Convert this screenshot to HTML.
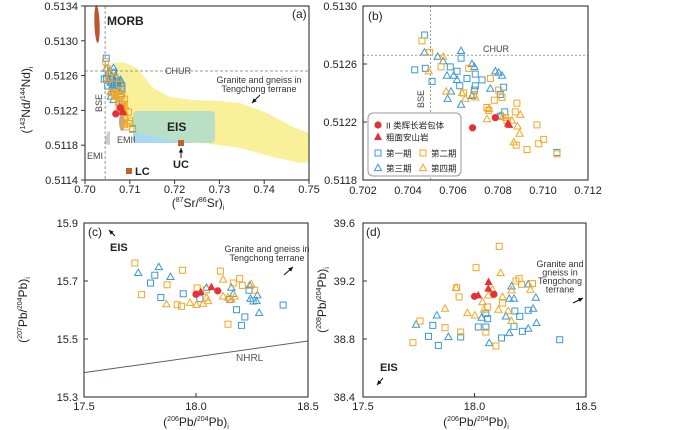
<!DOCTYPE html>
<html><head><meta charset="utf-8"><style>
html,body{margin:0;padding:0;background:#fff;}
svg{display:block;font-family:"Liberation Sans","Noto Sans CJK SC",sans-serif;}
</style></head><body>
<svg id="chart" width="700" height="430" viewBox="0 0 700 430">
<defs>
<clipPath id="clipA"><rect x="85" y="6" width="224" height="174"/></clipPath>
<clipPath id="clipYel"><polygon id="yelPoly" points="115,63 123,62 137,68 153,88 170,97 193,100 220,101 240,103 267,113 293,127 309,133 309,162 300,163 273,157 240,148 203,143 180,142 160,137 140,133 130,128 123,120 118,110 116,93"/></clipPath>
</defs>
<g id="layer"></g>
</svg>
<script>
// ---- Sr-Nd data (panels a, b) ----
const srB1=[0.70474,0.70636,0.70430,0.70477,0.70507,0.70588,0.70618,0.70662,0.70699,0.70729,0.70630,0.70699,0.70825,0.70810,0.70695,0.70830,0.70810,0.71062];
const ndB1=[0.51280,0.51264,0.51256,0.51257,0.51248,0.51258,0.51255,0.51250,0.51253,0.51249,0.51245,0.51245,0.51244,0.51239,0.51242,0.51227,0.51224,0.51199];
const srB3=[0.70473,0.70636,0.70532,0.70556,0.70684,0.70695,0.70788,0.70803,0.70818,0.70573,0.70603,0.70618,0.70591,0.70576,0.70636,0.70684,0.70766,0.70810];
const ndB3=[0.51268,0.51269,0.51265,0.51262,0.51260,0.51258,0.51255,0.51254,0.51252,0.51252,0.51252,0.51249,0.51241,0.51236,0.51232,0.51238,0.51243,0.51224];
const srO2=[0.70462,0.70496,0.70547,0.70670,0.70647,0.70692,0.70766,0.70784,0.70803,0.70818,0.70751,0.70759,0.70833,0.70840,0.70884,0.70877,0.70973,0.71003,0.70981,0.70929,0.70881,0.71062];
const ndO2=[0.51276,0.51268,0.51258,0.51257,0.51240,0.51239,0.51250,0.51235,0.51242,0.51237,0.51230,0.51228,0.51223,0.51221,0.51233,0.51227,0.51218,0.51208,0.51205,0.51201,0.51204,0.51198];
const srO4=[0.70492,0.70556,0.70570,0.70640,0.70655,0.70699,0.70751,0.70759,0.70822,0.70862,0.70887,0.70899,0.70896,0.70870];
const ndO4=[0.51255,0.51265,0.51241,0.51240,0.51236,0.51237,0.51222,0.51229,0.51224,0.51221,0.51217,0.51225,0.51212,0.51206];
const srRC=[0.70687,0.70788], ndRC=[0.51216,0.51223];
const srRT=[0.70844,0.70850], ndRT=[0.51219,0.51218];
// ---- Pb data (panels c, d) ----
const pb6B1c=[17.797,17.816,17.843,17.943,18.017,18.151,18.218,18.203,18.181,18.237,18.255,18.389];
const pb7B1=[15.693,15.720,15.643,15.656,15.639,15.636,15.576,15.547,15.601,15.668,15.631,15.617];
const pb6B3c=[17.742,17.834,17.886,18.047,18.158,18.166,18.240,18.243,18.270,18.274,18.282];
const pb7B3=[15.728,15.748,15.714,15.677,15.677,15.656,15.685,15.639,15.631,15.651,15.590];
const pb6O2c=[17.727,17.757,17.871,17.940,17.916,17.935,18.005,18.047,18.109,18.166,18.195,18.207,18.262,18.143];
const pb7O2=[15.762,15.653,15.687,15.737,15.618,15.613,15.676,15.670,15.734,15.693,15.708,15.685,15.668,15.551];
const pb6O4c=[17.868,17.973,18.002,18.032,18.047,18.054,18.121,18.121,18.143,18.158,18.173,18.247];
const pb7O4=[15.620,15.625,15.618,15.622,15.643,15.631,15.705,15.647,15.643,15.636,15.647,15.689];
const pb6RCc=[18.000,18.097], pb7RC=[15.654,15.666];
const pb6RTc=[18.021,18.069], pb7RT=[15.662,15.679];
const pb6B1d=[17.813,17.794,17.838,17.938,18.017,18.051,18.059,18.051,18.121,18.181,18.177,18.203,18.215,18.241,18.382];
const pb8B1=[38.894,38.818,38.756,38.814,38.883,38.883,38.940,38.975,38.807,38.993,38.887,38.956,38.853,38.998,38.795];
const pb6B3d=[17.738,17.831,17.883,18.032,18.066,18.141,18.156,18.156,18.177,18.166,18.241,18.275,18.263,18.278,18.241];
const pb8B3=[38.899,38.963,38.814,38.947,38.772,38.956,38.841,39.078,39.078,39.163,39.177,39.085,39.009,38.910,38.871];
const pb6O2d=[17.756,17.724,17.868,17.931,17.920,17.938,18.007,18.111,18.051,18.096,18.186,18.200,18.211,18.260,18.059,18.126];
const pb8O2=[38.924,38.775,38.878,39.090,39.154,38.848,39.292,39.439,38.848,38.752,39.200,39.216,39.177,39.182,39.021,39.048];
const pb6O4d=[17.868,17.917,17.968,18.002,18.042,18.036,18.062,18.081,18.107,18.117,18.126,18.151,18.166,18.166,18.251];
const pb8O4=[39.009,39.154,38.979,38.963,39.002,39.055,39.101,39.140,39.002,39.255,39.090,38.993,38.924,39.136,39.140];
const pb6RCd=[18.000,18.087], pb8RC=[39.094,39.108];
const pb6RTd=[18.017,18.063,18.062], pb8RT=[39.101,39.193,39.147];
const nhrlX=[17.5,18.5], nhrlY=[15.384,15.493];
const ticksA_x=["0.70","0.71","0.72","0.73","0.74","0.75"];
const ticksA_y=["0.5114","0.5118","0.5122","0.5126","0.5130","0.5134"];
const ticksB_x=["0.702","0.704","0.706","0.708","0.710","0.712"];
const ticksB_y=["0.5118","0.5122","0.5126","0.5130"];
const ticksC_x=["17.5","18.0","18.5"];
const ticksC_y=["15.3","15.5","15.7","15.9"];
const ticksD_y=["38.4","38.8","39.2","39.6"];

const NS="http://www.w3.org/2000/svg";
const layer=document.getElementById('layer');
const BLUE="#3b98d6", ORANGE="#f5a623", RED="#e5303a";
function mk(tag,attrs,parent){const e=document.createElementNS(NS,tag);for(const k in attrs)e.setAttribute(k,attrs[k]);(parent||layer).appendChild(e);return e;}
function txt(x,y,s,opt,parent){const o=Object.assign({x:x,y:y,'font-size':11,fill:'#222'},opt||{});const e=mk('text',o,parent);e.textContent=s;return e;}
function scale(d0,d1,r0,r1){return v=>r0+(v-d0)/(d1-d0)*(r1-r0);}
function marker(g,type,x,y,color){
  let e;
  if(type==='sq'){e=mk('rect',{x:x-3,y:y-3,width:6,height:6,fill:'none',stroke:color,'stroke-width':1},g);}
  else if(type==='tri'){e=mk('polygon',{points:`${x},${y-3.8} ${x-3.6},${y+2.6} ${x+3.6},${y+2.6}`,fill:'none',stroke:color,'stroke-width':1},g);}
  else if(type==='dot'){e=mk('circle',{cx:x,cy:y,r:3.6,fill:color},g);}
  else {e=mk('polygon',{points:`${x},${y-4.5} ${x-4},${y+3} ${x+4},${y+3}`,fill:color},g);}
  return e;
}
function series(g,sx,sy,xs,ys,type,color,name){
  for(let i=0;i<xs.length;i++){
    const m=marker(g,type,sx(xs[i]),sy(ys[i]),color);
    
    
  }
}
function frame(x0,y0,x1,y1,name){
  const r=mk('rect',{x:x0,y:y0,width:x1-x0,height:y1-y0,fill:'none',stroke:'#333','stroke-width':1.1});
  
  
}
function arrow(x1,y1,x2,y2){
  mk('line',{x1:x1,y1:y1,x2:x2,y2:y2,stroke:'#111','stroke-width':1});
  const a=Math.atan2(y2-y1,x2-x1),L=5;
  mk('polygon',{points:`${x2},${y2} ${x2-L*Math.cos(a-0.45)},${y2-L*Math.sin(a-0.45)} ${x2-L*Math.cos(a+0.45)},${y2-L*Math.sin(a+0.45)}`,fill:'#111'});
}
function allSeries(g,sx,sy,d){
  series(g,sx,sy,d[0],d[1],'sq',BLUE,'series-phase1');
  series(g,sx,sy,d[2],d[3],'tri',BLUE,'series-phase3');
  series(g,sx,sy,d[4],d[5],'sq',ORANGE,'series-phase2');
  series(g,sx,sy,d[6],d[7],'tri',ORANGE,'series-phase4');
  series(g,sx,sy,d[8],d[9],'dot',RED,'series-gabbro-enclave');
  series(g,sx,sy,d[10],d[11],'rtri',RED,'series-trachyandesite');
}
const srnd=[srB1,ndB1,srB3,ndB3,srO2,ndO2,srO4,ndO4,srRC,ndRC,srRT,ndRT];

// ===== Panel A =====
(function(){
  const sx=scale(0.70,0.75,85,309), sy=scale(0.5114,0.5134,180,6);
  const g=mk('g',{});  
  mk('ellipse',{cx:97,cy:24,rx:2.6,ry:19,fill:'#c0532f',transform:'rotate(-2 97 24)'},g);
  // blue EIS, yellow granite, green overlap
  mk('rect',{x:133,y:111,width:82,height:32,rx:4,fill:'#a8d8f2'},g);
  mk('polygon',{points:document.getElementById('yelPoly').getAttribute('points'),fill:'#fbf09a'},g);
  mk('rect',{x:133,y:111,width:82,height:32,rx:4,fill:'#b9e0c4','clip-path':'url(#clipYel)'},g);
  mk('ellipse',{cx:122,cy:122,rx:3,ry:9,fill:'#aaa'},g);
  mk('path',{d:'M104,144 Q107,128 110,132 L110,145 Z',fill:'#ccc'},g);
  mk('line',{x1:85,y1:71,x2:309,y2:71,stroke:'#999','stroke-dasharray':'3,2'},g);
  mk('line',{x1:sx(0.7045),y1:6,x2:sx(0.7045),y2:180,stroke:'#999','stroke-dasharray':'3,2'},g);
  allSeries(g,sx,sy,srnd);
  mk('rect',{x:178,y:140,width:6,height:6,fill:'#c0632f'},g);
  mk('rect',{x:126,y:168,width:6,height:6,fill:'#c0632f'},g);
  frame(85,6,309,180,'panel-a-frame');
  txt(107,25,'MORB',{'font-weight':'bold','font-size':12});
  txt(292,18,'(a)',{'font-size':12});
  txt(165,74,'CHUR',{'font-size':9,fill:'#444'});
  txt(259,83,'Granite and gneiss  in',{'font-size':9,'text-anchor':'middle',fill:'#333'});
  txt(259,92,'Tengchong terrane',{'font-size':9,'text-anchor':'middle',fill:'#333'});
  arrow(260,95,252,103);
  txt(0,0,'BSE',{'font-size':9,fill:'#444',transform:'translate(102,112) rotate(-90)'});
  txt(117,143,'EMII',{'font-size':9,fill:'#444'});
  txt(87,159,'EMI',{'font-size':9,fill:'#444'});
  txt(167,131,'EIS',{'font-weight':'bold','font-size':12});
  arrow(181,158,181,148);
  txt(181,168,'UC',{'font-weight':'bold','font-size':11,'text-anchor':'middle'});
  txt(135,175,'LC',{'font-weight':'bold','font-size':11});
  ticksA_x.forEach(t=>{const x=sx(+t);mk('line',{x1:x,y1:180,x2:x,y2:184,stroke:'#333'});txt(x,193,t,{'text-anchor':'middle'});});
  ticksA_y.forEach(t=>{const y=sy(+t);mk('line',{x1:81,y1:y,x2:85,y2:y,stroke:'#333'});txt(78,y+4,t,{'text-anchor':'end'});});
  const xt=txt(198,207,'',{'text-anchor':'middle','font-size':12});
  xt.innerHTML='(<tspan font-size="7" dy="-5">87</tspan><tspan dy="5">Sr/</tspan><tspan font-size="7" dy="-5">86</tspan><tspan dy="5">Sr)</tspan><tspan font-size="7" dy="3">i</tspan>';
  
  const yt=txt(0,0,'',{'text-anchor':'middle','font-size':12,transform:'translate(30,100) rotate(-90)'});
  yt.innerHTML='(<tspan font-size="7" dy="-5">143</tspan><tspan dy="5">Nd/</tspan><tspan font-size="7" dy="-5">144</tspan><tspan dy="5">Nd)</tspan><tspan font-size="7" dy="3">i</tspan>';
  
})();

// ===== Panel B =====
(function(){
  const sx=scale(0.702,0.712,363,588), sy=scale(0.5118,0.5130,180,6);
  const g=mk('g',{});  
  mk('line',{x1:363,y1:sy(0.51266),x2:588,y2:sy(0.51266),stroke:'#999','stroke-dasharray':'2,2'},g);
  mk('line',{x1:sx(0.705),y1:6,x2:sx(0.705),y2:180,stroke:'#999','stroke-dasharray':'2,2'},g);
  allSeries(g,sx,sy,srnd);
  frame(363,6,588,180,'panel-b-frame');
  txt(368,20,'(b)',{'font-size':12});
  txt(483,52,'CHUR',{'font-size':9,fill:'#444'});
  txt(0,0,'BSE',{'font-size':9,fill:'#444',transform:'translate(424,108) rotate(-90)'});
  ticksB_x.forEach(t=>{const x=sx(+t);txt(x,194,t,{'text-anchor':'middle'});});
  ticksB_y.forEach(t=>{const y=sy(+t);mk('line',{x1:363,y1:y,x2:367,y2:y,stroke:'#333'});txt(357,y+4,t,{'text-anchor':'end'});});
  // legend
  const lg=mk('g',{});  
  mk('rect',{x:368,y:113,width:93,height:63,rx:5,fill:'#fff',stroke:'#999'},lg);
  const items=[[378,125,'dot',RED,'II 类辉长岩包体'],[378,137,'rtri',RED,'粗面安山岩'],[378,153,'sq',BLUE,'第一期'],[423,153,'sq',ORANGE,'第二期'],[378,168,'tri',BLUE,'第三期'],[423,168,'tri',ORANGE,'第四期']];
  items.forEach(it=>{const e=mk('g',{},lg);marker(e,it[2],it[0],it[1],it[3]);txt(it[0]+8,it[1]+3.5,it[4],{'font-size':8.5},e);});
})();

// ===== Panel C =====
(function(){
  const sx=scale(17.5,18.5,84,308), sy=scale(15.3,15.9,397,223);
  const g=mk('g',{});  
  const nl=mk('line',{x1:sx(nhrlX[0]),y1:sy(nhrlY[0]),x2:sx(nhrlX[1]),y2:sy(nhrlY[1]),stroke:'#6b5670','stroke-width':1},g);
   
  series(g,sx,sy,pb6B1c,pb7B1,'sq',BLUE,'series-phase1');
  series(g,sx,sy,pb6B3c,pb7B3,'tri',BLUE,'series-phase3');
  series(g,sx,sy,pb6O2c,pb7O2,'sq',ORANGE,'series-phase2');
  series(g,sx,sy,pb6O4c,pb7O4,'tri',ORANGE,'series-phase4');
  series(g,sx,sy,pb6RCc,pb7RC,'dot',RED,'series-gabbro-enclave');
  series(g,sx,sy,pb6RTc,pb7RT,'rtri',RED,'series-trachyandesite');
  frame(84,223,308,397,'panel-c-frame');
  txt(88,236,'(c)',{'font-size':12});
  arrow(115,236,109,230);
  txt(110,251,'EIS',{'font-weight':'bold','font-size':11});
  txt(267,252,'Granite and gneiss  in',{'font-size':9,'text-anchor':'middle',fill:'#333'});
  txt(267,261,'Tengchong terrane',{'font-size':9,'text-anchor':'middle',fill:'#333'});
  arrow(284,275,293,267);
  txt(236,361,'NHRL',{'font-size':10,fill:'#555'});
  ticksC_x.forEach(t=>{const x=sx(+t);mk('line',{x1:x,y1:397,x2:x,y2:393,stroke:'#333'});txt(x,410,t,{'text-anchor':'middle'});});
  ticksC_y.forEach(t=>{const y=sy(+t);mk('line',{x1:84,y1:y,x2:88,y2:y,stroke:'#333'});txt(78,y+4,t,{'text-anchor':'end'});});
  const xt=txt(196,426,'',{'text-anchor':'middle','font-size':12});
  xt.innerHTML='(<tspan font-size="7" dy="-5">206</tspan><tspan dy="5">Pb/</tspan><tspan font-size="7" dy="-5">204</tspan><tspan dy="5">Pb)</tspan><tspan font-size="7" dy="3">i</tspan>';
  const yt=txt(0,0,'',{'text-anchor':'middle','font-size':12,transform:'translate(27,310) rotate(-90)'});
  yt.innerHTML='(<tspan font-size="7" dy="-5">207</tspan><tspan dy="5">Pb/</tspan><tspan font-size="7" dy="-5">204</tspan><tspan dy="5">Pb)</tspan><tspan font-size="7" dy="3">i</tspan>';
})();

// ===== Panel D =====
(function(){
  const sx=scale(17.5,18.5,363,586), sy=scale(38.4,39.6,397,223);
  const g=mk('g',{});  
  series(g,sx,sy,pb6B1d,pb8B1,'sq',BLUE,'series-phase1');
  series(g,sx,sy,pb6B3d,pb8B3,'tri',BLUE,'series-phase3');
  series(g,sx,sy,pb6O2d,pb8O2,'sq',ORANGE,'series-phase2');
  series(g,sx,sy,pb6O4d,pb8O4,'tri',ORANGE,'series-phase4');
  series(g,sx,sy,pb6RCd,pb8RC,'dot',RED,'series-gabbro-enclave');
  series(g,sx,sy,pb6RTd,pb8RT,'rtri',RED,'series-trachyandesite');
  frame(363,223,586,397,'panel-d-frame');
  txt(366,236,'(d)',{'font-size':12});
  ['Granite and','gneiss in','Tengchong','terrane'].forEach((s,i)=>txt(560,267+i*8.5,s,{'font-size':9,'text-anchor':'middle',fill:'#333'}));
  arrow(573,303,583,298);
  txt(380,371,'EIS',{'font-weight':'bold','font-size':11});
  arrow(383,378,377,385);
  ticksC_x.forEach(t=>{const x=sx(+t);mk('line',{x1:x,y1:397,x2:x,y2:393,stroke:'#333'});txt(x,410,t,{'text-anchor':'middle'});});
  ticksD_y.forEach(t=>{const y=sy(+t);mk('line',{x1:363,y1:y,x2:367,y2:y,stroke:'#333'});txt(355,y+4,t,{'text-anchor':'end'});});
  const xt=txt(476,426,'',{'text-anchor':'middle','font-size':12});
  xt.innerHTML='(<tspan font-size="7" dy="-5">206</tspan><tspan dy="5">Pb/</tspan><tspan font-size="7" dy="-5">204</tspan><tspan dy="5">Pb)</tspan><tspan font-size="7" dy="3">i</tspan>';
  const yt=txt(0,0,'',{'text-anchor':'middle','font-size':12,transform:'translate(326,300) rotate(-90)'});
  yt.innerHTML='(<tspan font-size="7" dy="-5">208</tspan><tspan dy="5">Pb/</tspan><tspan font-size="7" dy="-5">204</tspan><tspan dy="5">Pb)</tspan><tspan font-size="7" dy="3">i</tspan>';
})();
</script>
</body></html>
